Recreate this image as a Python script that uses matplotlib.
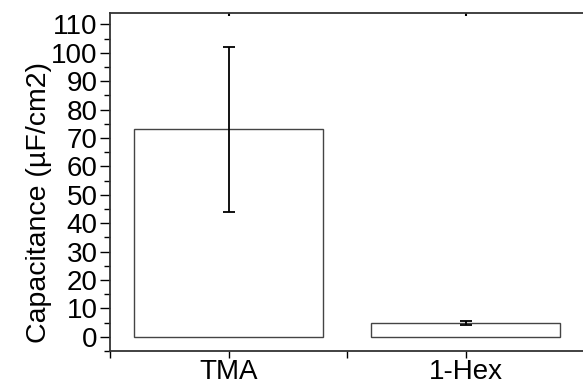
import matplotlib
matplotlib.use("Agg")
import matplotlib.pyplot as plt
from matplotlib.ticker import MultipleLocator, FixedLocator

plt.rcParams['font.family'] = ['Liberation Sans', 'DejaVu Sans']

labels = ["TMA", "1-Hex"]
capacitance = [73.1, 4.8]
errors = [29.0, 0.75]

fig = plt.figure(figsize=(5.83, 3.85), dpi=100)
ax = fig.add_axes([110 / 583, 1 - 351 / 385, 474 / 583, 338 / 385])

pos = [1, 2]
ax.bar(pos, capacitance, width=0.8, color="white", edgecolor="#444444", linewidth=1.0)
ax.errorbar(pos, capacitance, yerr=errors, fmt="none", ecolor="black",
            elinewidth=1.3, capsize=4.5, capthick=1.3)

ax.set_xlim(0.5, 2.5)
ax.set_ylim(-5, 114)
ax.set_xticks(pos)
ax.set_xticklabels(labels)
ax.xaxis.set_minor_locator(FixedLocator([0.5, 1.5, 2.5]))
ax.yaxis.set_major_locator(MultipleLocator(10))
ax.yaxis.set_minor_locator(MultipleLocator(5))
ax.set_yticks(range(0, 111, 10))

ax.tick_params(axis="y", which="major", labelsize=20, length=7, width=1.0, pad=2)
ax.tick_params(axis="y", which="minor", length=4, width=1.0)
ax.tick_params(axis="x", which="major", labelsize=20, length=5, width=1.0, pad=1)
ax.tick_params(axis="x", which="minor", length=5, width=1.0)

# short inward marks on the top spine at the category positions
top = ax.secondary_xaxis("top")
top.set_xticks(pos)
top.set_xticklabels([])
top.tick_params(direction="in", length=2, width=1.5)
top.xaxis.set_minor_locator(FixedLocator([]))
top.spines["top"].set_visible(False)

for s in ax.spines.values():
    s.set_linewidth(1.3)
    s.set_color("#333333")

ax.set_ylabel("Capacitance (µF/cm2)", fontsize=20.5)
ax.yaxis.set_label_coords(-0.122, 0.44)

fig.savefig("out.png", dpi=100)
